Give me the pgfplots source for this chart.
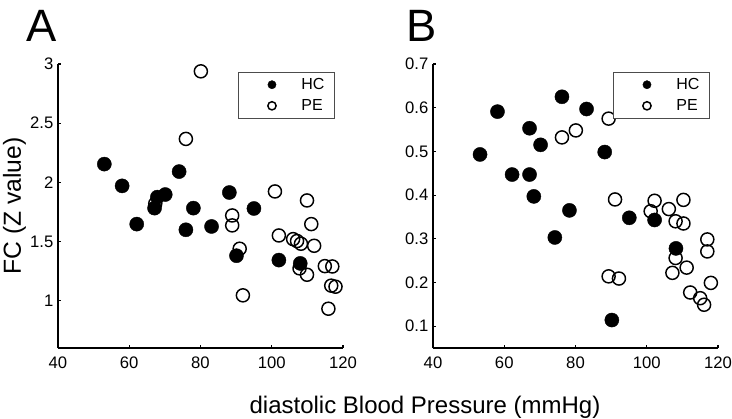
\documentclass[border=0pt]{standalone}
\usepackage{pgfplots}
\pgfplotsset{compat=1.18}
\usepackage{fontspec}
\setmainfont{Liberation Sans}
\begin{document}
\begin{tikzpicture}
\useasboundingbox (0pt,0pt) rectangle (549pt,313.5pt);
\pgfplotsset{
  myax/.style={
    scale only axis, width=213.75pt, height=213pt,
    axis x line*=bottom, axis y line*=left,
    axis line style={line width=2.1pt, black},
    xmin=40, xmax=120, xtick={40,60,80,100,120},
    tick align=inside, major tick length=2pt,
    tick style={line width=0.8pt, black},
    ticklabel style={font=\fontsize{12.5}{14}\selectfont},
    xticklabel style={yshift=-3pt},
    /pgf/number format/assume math mode=true,
    clip=false,
    legend style={at={(0.972,0.973)}, anchor=north east, draw=gray!60!black, line width=0.7pt,
      font=\fontsize{12}{14}\selectfont, inner xsep=7.5pt, inner ysep=4.5pt, row sep=6pt,
      nodes={inner sep=0pt},
      /tikz/every odd column/.append style={column sep=19pt}},
    legend image code/.code={\path[draw=none,fill=none] (-18pt,0pt) -- (0pt,0pt);
       \draw[##1, mark size=3.1pt] plot coordinates {(0pt,0pt)};},
    legend cell align=left,
  },
  hc/.style={only marks, mark=*, mark size=5.3pt, mark options={fill=black, draw=black, line width=0.3pt}},
  pe/.style={only marks, mark=o, mark size=4.9pt, mark options={fill=white, draw=black, line width=1.1pt}},
}
\begin{axis}[myax, at={(43.5pt,52.5pt)}, anchor=south west,
  ymin=0.6, ymax=3, ytick={1,1.5,2,2.5,3}]
\addplot[pe, forget plot] coordinates {(67.3,1.82)};
\addplot[hc] coordinates {
(53.0,2.154) (58.0,1.97) (62.1,1.647) (67.9,1.875) (70.1,1.897) (67.1,1.782)
(74.0,2.091) (78.0,1.782) (75.9,1.599) (83.1,1.627) (88.1,1.914) (95.0,1.779)
(90.1,1.38) (102.0,1.343) (108.0,1.315)};
\addplot[pe] coordinates {
(80.1,2.938) (75.9,2.367) (88.9,1.72) (88.9,1.636) (91.0,1.439) (91.9,1.045)
(100.9,1.923) (102.0,1.551) (109.9,1.847) (111.1,1.647) (106.0,1.52) (107.1,1.504)
(108.2,1.481) (111.9,1.464) (107.8,1.273) (109.9,1.219) (114.9,1.292) (117.0,1.289)
(116.7,1.127) (117.9,1.118) (115.9,0.932)};
\legend{HC,PE}
\end{axis}
\begin{axis}[myax, at={(324.75pt,52.5pt)}, anchor=south west,
  ymin=0.05, ymax=0.7, ytick={0.1,0.2,0.3,0.4,0.5,0.6,0.7},
  yticklabel style={/pgf/number format/fixed, /pgf/number format/precision=1}]
\addplot[hc] coordinates {
(53.2,0.493) (58.1,0.591) (62.2,0.447) (67.1,0.447) (67.1,0.553) (68.3,0.397)
(70.2,0.515) (76.2,0.625) (78.3,0.365) (74.2,0.303) (83.1,0.597) (88.2,0.4985)
(95.1,0.348) (102.2,0.343) (108.2,0.278) (90.2,0.114)};
\addplot[pe] coordinates {
(89.3,0.575) (76.2,0.532) (80.1,0.548) (91.1,0.390) (89.3,0.214) (92.2,0.209)
(101.1,0.363) (102.2,0.387) (106.2,0.368) (110.3,0.389) (108.1,0.340) (110.3,0.335)
(108.1,0.256) (107.2,0.222) (111.2,0.234) (117.0,0.2985) (117.0,0.271) (118.0,0.199)
(112.2,0.177) (115.0,0.164) (116.1,0.149)};
\legend{HC,PE}
\end{axis}
\node[anchor=base west, inner sep=0pt, font=\fontsize{34}{34}\selectfont] at (19.5pt,282pt) {A};
\node[anchor=base west, inner sep=0pt, font=\fontsize{34}{34}\selectfont] at (304.5pt,282pt) {B};
\node[rotate=90, inner sep=0pt, font=\fontsize{18.5}{20}\selectfont] at (10.9pt,159pt) {FC (Z value)};
\node[anchor=base, inner sep=0pt, font=\fontsize{18}{20}\selectfont] at (318.75pt,3.75pt) {diastolic Blood Pressure (mmHg)};
\end{tikzpicture}
\end{document}
